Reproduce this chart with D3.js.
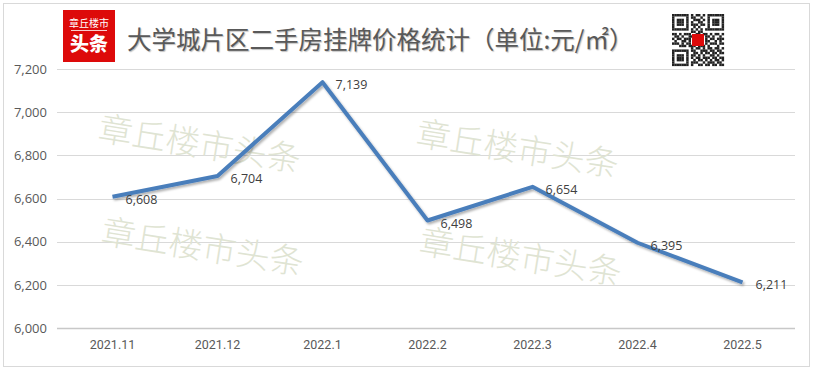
<!DOCTYPE html>
<html>
<head>
<meta charset="utf-8">
<script src="https://cdn.jsdelivr.net/npm/d3@7"></script>
<style>
  html, body { margin: 0; padding: 0; background: #fff; }
  svg { display: block; }
</style>
</head>
<body>
<div id="chart"></div>
<script>
const months = ["2021.11", "2021.12", "2022.1", "2022.2", "2022.3", "2022.4", "2022.5"];
const prices = [6608, 6704, 7139, 6498, 6654, 6395, 6211];
const yTicks = [6000, 6200, 6400, 6600, 6800, 7000, 7200];
const titleText = "大学城片区二手房挂牌价格统计（单位:元/㎡）";
const watermarkText = "章丘楼市头条";

const width = 814;
const height = 371;
const margin = { top: 69, right: 19, bottom: 43, left: 60 };

const svg = d3.select("#chart")
  .append("svg")
  .attr("width", width)
  .attr("height", height);

const defs = svg.append("defs");
const shadow = defs.append("filter")
  .attr("id", "lineShadow")
  .attr("x", "-10%").attr("y", "-10%")
  .attr("width", "120%").attr("height", "130%");
shadow.append("feDropShadow")
  .attr("dx", 1.5).attr("dy", 2)
  .attr("stdDeviation", 1.2)
  .attr("flood-color", "#000")
  .attr("flood-opacity", 0.3);

// outer frame
svg.append("rect")
  .attr("x", 3.5).attr("y", 3.5)
  .attr("width", 806).attr("height", 363)
  .attr("fill", "#fff")
  .attr("stroke", "#d9d9d9");

const x = d3.scaleBand()
  .domain(months)
  .range([margin.left, width - margin.right]);

const y = d3.scaleLinear()
  .domain([6000, 7200])
  .range([height - margin.bottom, margin.top]);

// gridlines
svg.append("g")
  .selectAll("line")
  .data(yTicks)
  .join("line")
  .attr("x1", 57)
  .attr("x2", width - margin.right)
  .attr("y1", d => Math.round(y(d)) + 0.5)
  .attr("y2", d => Math.round(y(d)) + 0.5)
  .attr("stroke", d => d === 6000 ? "#c8c8c8" : "#d9d9d9")
  .attr("stroke-width", d => d === 6000 ? 1.5 : 1);

// y axis labels
const yAxis = svg.append("g")
  .attr("transform", `translate(57,0)`)
  .call(d3.axisLeft(y).tickValues(yTicks).tickFormat(d3.format(",")).tickSize(0).tickPadding(10));
yAxis.select(".domain").remove();
yAxis.selectAll("text")
  .attr("fill", "#595959")
  .style("font-family", "'Open Sans', 'DejaVu Sans', sans-serif")
  .style("font-size", "13px");

// x axis labels
const xAxis = svg.append("g")
  .attr("transform", `translate(0,${height - margin.bottom})`)
  .call(d3.axisBottom(x).tickSize(0).tickPadding(12));
xAxis.select(".domain").remove();
xAxis.selectAll("text")
  .attr("fill", "#595959")
  .style("font-family", "'Liberation Sans Narrow', 'Roboto', sans-serif")
  .style("font-size", "12.5px");

// watermarks
const marks = [[97, 140], [415, 145], [100, 243], [418, 253]];
svg.append("g")
  .selectAll("text")
  .data(marks)
  .join("text")
  .attr("transform", d => `translate(${d[0]},${d[1]}) rotate(9)`)
  .attr("fill", "#dfe4d3")
  .style("font-family", "'Noto Sans CJK SC', sans-serif")
  .style("font-size", "34px")
  .style("font-weight", 300)
  .style("letter-spacing", "0px")
  .text(watermarkText);

// price line
const line = d3.line()
  .x((d, i) => x(months[i]) + x.bandwidth() / 2)
  .y(d => y(d));

svg.append("path")
  .datum(prices)
  .attr("fill", "none")
  .attr("stroke", "#4a7ebb")
  .attr("stroke-width", 4)
  .attr("stroke-linejoin", "round")
  .attr("filter", "url(#lineShadow)")
  .attr("d", line);

// value labels
svg.append("g")
  .selectAll("text")
  .data(prices)
  .join("text")
  .attr("x", (d, i) => x(months[i]) + x.bandwidth() / 2 + 13)
  .attr("y", d => y(d) + 7)
  .attr("fill", "#404040")
  .style("font-family", "'Open Sans', 'DejaVu Sans', sans-serif")
  .style("font-size", "12.5px")
  .text(d => d3.format(",")(d));

// logo
const logo = svg.append("g").attr("transform", "translate(63,10)");
logo.append("rect")
  .attr("width", 52).attr("height", 52)
  .attr("fill", "#dd0a0a");
logo.append("text")
  .attr("x", 26).attr("y", 17)
  .attr("text-anchor", "middle")
  .attr("fill", "#fff")
  .style("font-family", "'Noto Sans CJK SC', sans-serif")
  .style("font-size", "10px")
  .text("章丘楼市");
logo.append("line")
  .attr("x1", 8).attr("x2", 44)
  .attr("y1", 20.5).attr("y2", 20.5)
  .attr("stroke", "#fff").attr("stroke-width", 0.8);
logo.append("text")
  .attr("x", 26).attr("y", 41)
  .attr("text-anchor", "middle")
  .attr("fill", "#fff")
  .style("font-family", "'Noto Sans CJK SC', sans-serif")
  .style("font-size", "19px")
  .style("font-weight", 900)
  .text("头条");

// title
svg.append("text")
  .attr("x", 127).attr("y", 49)
  .attr("fill", "#595959")
  .style("font-family", "'Noto Sans CJK SC', sans-serif")
  .style("font-size", "24.5px")
  .style("text-shadow", "1px 1px 1px rgba(0,0,0,0.25)")
  .text(titleText);

// qr code block (decorative)
const qrBits = [
  "1111111010110101111111",
  "1000001011001001000001",
  "1011101001110101011101",
  "1011101010011001011101",
  "1011101011101101011101",
  "1000001001010001000001",
  "1111111010101011111111",
  "0000000011011000000000",
  "1101011100110110101101",
  "0110100110000011010010",
  "1011011100000010110111",
  "0100110100000011001010",
  "1110101100000010111011",
  "0001110111011101000100",
  "0000000010110101101101",
  "1111111011001110110110",
  "1000001001101011011011",
  "1011101011010100110100",
  "1011101010110111011011",
  "1011101001011010101101",
  "1000001011100101110110",
  "1111111010011011011011"
];
const qr = svg.append("g").attr("transform", "translate(672,14)");
const cell = 52 / qrBits.length;
qrBits.forEach((row, r) => {
  row.split("").forEach((b, c) => {
    if (b === "1") {
      qr.append("rect")
        .attr("x", c * cell).attr("y", r * cell)
        .attr("width", cell + 0.1).attr("height", cell + 0.1)
        .attr("fill", "#222");
    }
  });
});
qr.append("rect")
  .attr("x", 20).attr("y", 20)
  .attr("width", 12).attr("height", 12)
  .attr("fill", "#dd0a0a");
</script>
</body>
</html>
